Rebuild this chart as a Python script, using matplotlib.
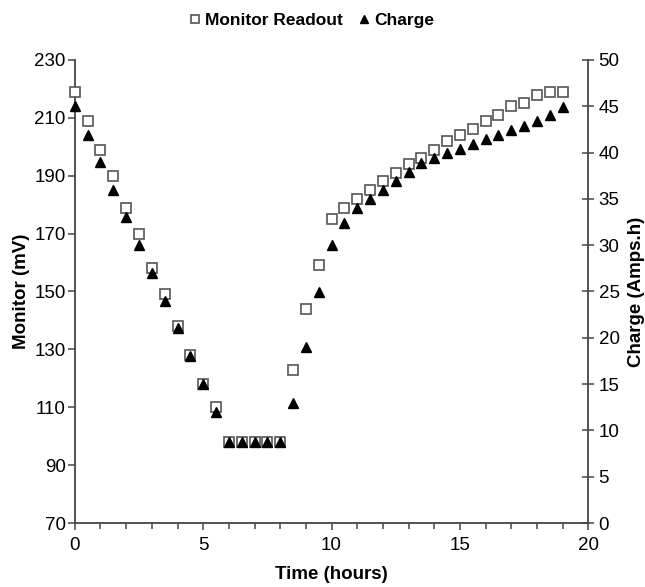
import matplotlib.pyplot as plt
from matplotlib.ticker import MultipleLocator

plt.rcParams['font.family'] = ['Liberation Sans', 'DejaVu Sans']

# time in hours, readings every half hour
time_h = [0, 0.5, 1, 1.5, 2, 2.5, 3, 3.5, 4, 4.5, 5, 5.5, 6, 6.5, 7, 7.5, 8,
          8.5, 9, 9.5, 10, 10.5, 11, 11.5, 12, 12.5, 13, 13.5, 14, 14.5, 15,
          15.5, 16, 16.5, 17, 17.5, 18, 18.5, 19]

monitor_mv = [219, 209, 199, 190, 179, 170, 158, 149, 138, 128, 118, 110,
              98, 98, 98, 98, 98,
              123, 144, 159, 175, 179, 182, 185, 188, 191, 194, 196, 199,
              202, 204, 206, 209, 211, 214, 215, 218, 219, 219]

charge_ah = [45.0, 41.9, 39.0, 36.0, 33.0, 30.0, 27.0, 24.0, 21.0, 18.0,
             15.0, 12.0, 8.8, 8.8, 8.8, 8.8, 8.8,
             13.0, 19.0, 24.9, 30.0, 32.4, 34.0, 35.0, 35.9, 36.9, 37.9,
             38.9, 39.4, 40.0, 40.4, 40.9, 41.5, 41.9, 42.4, 42.9, 43.4,
             44.0, 44.9]

fig = plt.figure(figsize=(6.45, 5.87), dpi=100)
ax = fig.add_axes([0.116, 0.109, 0.796, 0.789])
ax2 = ax.twinx()

ax.plot(time_h, monitor_mv, linestyle='none', marker='s', markersize=7,
        markerfacecolor='white', markeredgecolor='#555555', markeredgewidth=1.2,
        label='Monitor Readout', zorder=3, clip_on=False)
ax2.plot(time_h, charge_ah, linestyle='none', marker='^', markersize=7.5,
         color='black', label='Charge', zorder=4, clip_on=False)

ax.set_xlim(0, 20)
ax.set_ylim(70, 230)
ax2.set_ylim(0, 50)
ax.set_yticks(range(70, 231, 20))
ax2.set_yticks(range(0, 51, 5))
ax.xaxis.set_major_locator(MultipleLocator(5))
ax.xaxis.set_minor_locator(MultipleLocator(1))

for a in (ax, ax2):
    a.spines['top'].set_visible(False)
    for s in a.spines.values():
        s.set_color('#444444')
        s.set_linewidth(1.3)
ax.spines['right'].set_visible(False)
ax2.spines['left'].set_visible(False)
ax2.spines['bottom'].set_visible(False)

ax.tick_params(axis='both', which='major', labelsize=13.5, length=5,
               width=1.1, color='#444444', direction='out', pad=1.5)
ax.tick_params(axis='x', which='minor', length=4, width=1.1, color='#444444')
ax.tick_params(axis='x', which='major', pad=5)
ax2.tick_params(axis='y', labelsize=13.5, length=9, width=1.1,
                color='#444444', direction='inout', pad=3)

ax.set_xlabel('Time (hours)', fontsize=13.5, fontweight='bold', labelpad=9)
ax.set_ylabel('Monitor (mV)', fontsize=13.5, fontweight='bold', labelpad=3)
ax2.set_ylabel('Charge (Amps.h)', fontsize=13.5, fontweight='bold', labelpad=6)

h1, l1 = ax.get_legend_handles_labels()
h2, l2 = ax2.get_legend_handles_labels()
fig.legend(h1 + h2, l1 + l2, loc='upper center', bbox_to_anchor=(0.48, 1.005),
           ncol=2, frameon=False, handletextpad=0.0, columnspacing=0.6,
           handlelength=1.2, prop={'weight': 'bold', 'size': 12.5},
           markerscale=0.8)

fig.savefig('out.png', dpi=100)
